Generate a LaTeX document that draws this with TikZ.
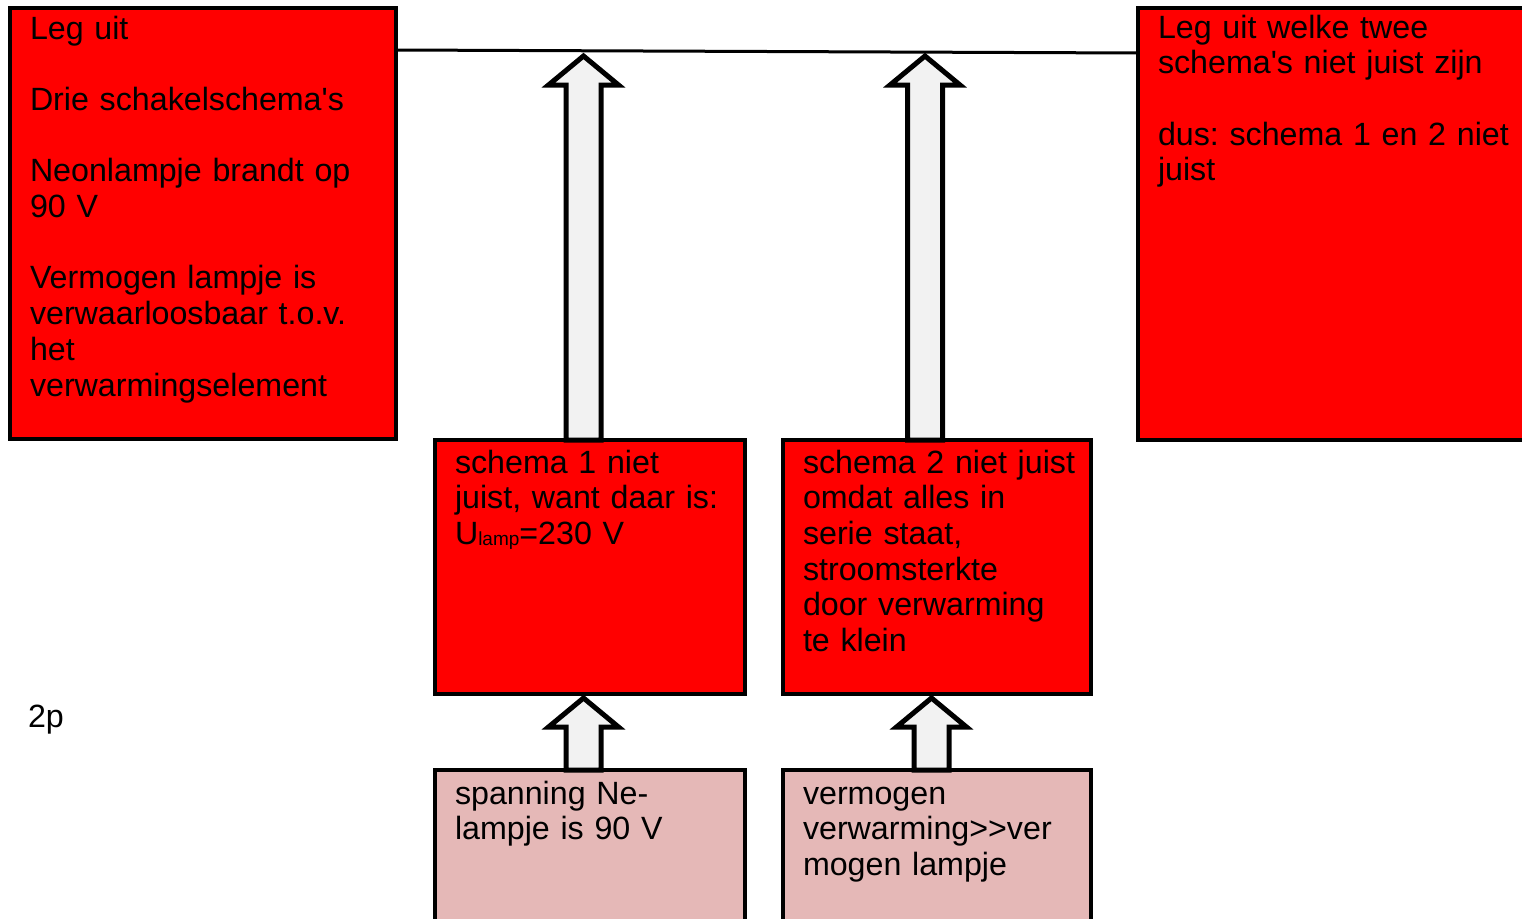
\documentclass[tikz,border=0pt]{standalone}
\usepackage{fontspec}
\setmainfont{Liberation Sans}
\usetikzlibrary{calc}
\definecolor{boxred}{RGB}{255,0,0}
\definecolor{boxpink}{RGB}{229,184,183}
\definecolor{arrowfill}{RGB}{242,242,242}
\frenchspacing

% hollow block arrow from the anchor #2 up to the tip coordinate #1
\newcommand\blockup[2]{%
  \draw[blockarrow] ($(#1 |- #2)+(-17.5,0)$) -- ($(#1)+(-17.5,29)$) -- ($(#1)+(-35,29)$)
    -- (#1) -- ($(#1)+(35,29)$) -- ($(#1)+(17.5,29)$) -- ($(#1 |- #2)+(17.5,0)$) -- cycle;}

\begin{document}
\begin{tikzpicture}[x=1pt,y=-1pt,
  box/.style={draw=black, line width=4pt, fill=boxred, inner sep=0pt, outer sep=0pt, anchor=north west},
  pinkbox/.style={box, fill=boxpink},
  txt/.style={anchor=base west, inner sep=0pt, outer sep=0pt, align=left, text width=420pt,
    font=\fontsize{32.2}{35.7}\selectfont},
  blockarrow/.style={draw=black, line width=5pt, fill=arrowfill, miter limit=10}]

\fill[white] (0,0) rectangle (1522,918);
\useasboundingbox (0,0) rectangle (1522,918);

% boxes
\node[box, minimum width=386pt, minimum height=431pt] (given) at (10,8) {};
\node[box, minimum width=392pt, minimum height=432pt] (ask) at (1138,8) {};
\node[box, minimum width=310pt, minimum height=254pt] (s1) at (435,440) {};
\node[box, minimum width=308pt, minimum height=254pt] (s2) at (783,440) {};
\node[pinkbox, minimum width=310pt, minimum height=160pt] (r1) at (435,770) {};
\node[pinkbox, minimum width=308pt, minimum height=160pt] (r2) at (783,770) {};

% connecting line between the two top boxes
\draw[line width=3pt] ($(given.north east)+(0,42)$) -- ($(ask.north west)+(0,45)$);

% arrow tips
\coordinate (t1) at (583.5,56);
\coordinate (t2) at (925,56);
\coordinate (u1) at (583.5,698);
\coordinate (u2) at (931.5,698);

\blockup{t1}{s1.north}
\blockup{t2}{s2.north}
\blockup{u1}{r1.north}
\blockup{u2}{r2.north}

% texts
\node[txt] (givenT) at ($(given.north west)+(20,31)$)
  {Leg uit\\[35.7pt]Drie schakelschema\textquotesingle s\\[35.7pt]Neonlampje brandt op\\90 V\\[35.7pt]Vermogen lampje is\\verwaarloosbaar t.o.v.\\het\\verwarmingselement};
\node[txt] (askT) at ($(ask.north west)+(20,30)$)
  {Leg uit welke twee\\schema\textquotesingle s niet juist zijn\\[35.7pt]dus: schema 1 en 2 niet\\juist};
\node[txt] (s1T) at ($(s1.north west)+(20,33)$)
  {schema 1 niet\\juist, want daar is:\\U\raisebox{-1pt}{\fontsize{19}{20}\selectfont lamp}=230 V};
\node[txt] (s2T) at ($(s2.north west)+(20,33)$)
  {schema 2 niet juist\\omdat alles in\\serie staat,\\stroomsterkte\\door verwarming\\te klein};
\node[txt] (r1T) at ($(r1.north west)+(20,34)$)
  {spanning Ne-\\lampje is 90 V};
\node[txt] (r2T) at ($(r2.north west)+(20,34)$)
  {vermogen\\verwarming>{}>ver\\mogen lampje};
\node[txt] (pts) at (28,727) {2p};
\end{tikzpicture}
\end{document}
